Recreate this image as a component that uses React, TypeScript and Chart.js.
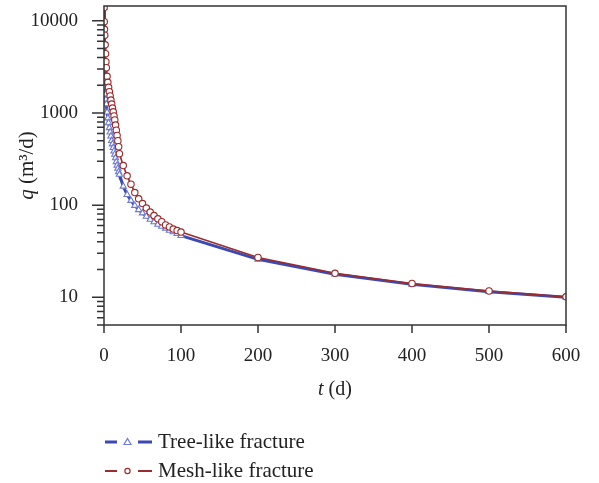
import React, { useEffect, useRef } from "react";
import { Chart, registerables } from "chart.js";

Chart.register(...registerables);

// ---- data ----
const tDays = [
  0.1, 0.3, 0.6, 1, 1.5, 2, 2.5, 3, 4, 5, 6, 7, 8, 9, 10, 11, 12, 13, 14, 15, 16, 17, 18, 19, 20,
  25, 30, 35, 40, 45, 50, 55, 60, 65, 70, 75, 80, 85, 90, 95, 100,
  200, 300, 400, 500, 600,
];
const qTree = [
  14000, 4500, 3000, 2300, 1900, 1600, 1400, 1250, 1020, 880, 780, 690, 620, 560, 500, 460, 420, 385, 355, 325, 295, 270, 250, 230, 215,
  160, 130, 112, 99, 89, 82, 75.5, 70, 65.6, 61.8, 58.8, 56, 53.2, 51.1, 49, 46.6,
  25.8, 17.8, 13.8, 11.5, 10,
];
const qMesh = [
  14000, 9800, 8100, 7000, 5500, 4400, 3600, 3100, 2500, 2150, 1900, 1700, 1530, 1380, 1250, 1130, 1030, 930, 840, 740, 650, 570, 500, 430, 361,
  269, 208, 169, 137, 117, 104, 93, 84, 77, 71, 66, 61, 58, 55, 53, 51,
  27, 18.2, 14.1, 11.7, 10.1,
];
const seriesNames = ["Tree-like fracture", "Mesh-like fracture"];
const xTickValues = [0, 100, 200, 300, 400, 500, 600];
const yTickLabels = [10, 100, 1000, 10000];

const FONT = "'Liberation Serif', 'Times New Roman', serif";
const BLUE_LINE = "#3a49b4";
const BLUE_MARK = "#6c7bd4";
const RED = "#9c2b2b";
const AXIS = "#333333";
const TEXT = "#222222";

const framePlugin = {
  id: "frameTicks",
  afterDraw(chart: any) {
    const { ctx, chartArea: a, scales } = chart;
    const xs = scales.x;
    const ys = scales.y;
    ctx.save();
    ctx.strokeStyle = AXIS;
    ctx.lineWidth = 1.5;
    ctx.strokeRect(a.left, a.top, a.right - a.left, a.bottom - a.top);
    ctx.beginPath();
    xTickValues.forEach((v) => {
      const px = xs.getPixelForValue(v);
      ctx.moveTo(px, a.bottom);
      ctx.lineTo(px, a.bottom + 8);
    });
    for (let d = 0; d <= 4; d++) {
      for (let m = 1; m <= 9; m++) {
        const v = m * Math.pow(10, d);
        if (v < ys.min || v > ys.max) continue;
        const py = ys.getPixelForValue(v);
        const len = m === 1 ? 12 : 7;
        ctx.moveTo(a.left, py);
        ctx.lineTo(a.left - len, py);
      }
    }
    ctx.stroke();

    ctx.fillStyle = TEXT;
    ctx.textBaseline = "middle";
    const xt1 = "t";
    const xt2 = " (d)";
    ctx.font = `italic 20px ${FONT}`;
    const w1 = ctx.measureText(xt1).width;
    ctx.font = `20px ${FONT}`;
    const w2 = ctx.measureText(xt2).width;
    const cx = (a.left + a.right) / 2;
    const sx = cx - (w1 + w2) / 2;
    ctx.textAlign = "left";
    ctx.font = `italic 20px ${FONT}`;
    ctx.fillText(xt1, sx, 390);
    ctx.font = `20px ${FONT}`;
    ctx.fillText(xt2, sx + w1, 390);

    ctx.save();
    ctx.translate(27, (a.top + a.bottom) / 2);
    ctx.rotate(-Math.PI / 2);
    const yt1 = "q";
    const yt2 = " (m³/d)";
    ctx.font = `italic 21px ${FONT}`;
    const v1 = ctx.measureText(yt1).width;
    ctx.font = `21px ${FONT}`;
    const v2 = ctx.measureText(yt2).width;
    const sy = -(v1 + v2) / 2;
    ctx.font = `italic 21px ${FONT}`;
    ctx.fillText(yt1, sy, 0);
    ctx.font = `21px ${FONT}`;
    ctx.fillText(yt2, sy + v1, 0);
    ctx.restore();

    const rows = [
      { y: 442, color: BLUE_LINE, mark: BLUE_MARK, lw: 3, shape: "tri", name: seriesNames[0] },
      { y: 471, color: RED, mark: RED, lw: 2, shape: "circ", name: seriesNames[1] },
    ];
    rows.forEach((r) => {
      ctx.strokeStyle = r.color;
      ctx.lineWidth = r.lw;
      ctx.beginPath();
      ctx.moveTo(105, r.y);
      ctx.lineTo(117, r.y);
      ctx.moveTo(138, r.y);
      ctx.lineTo(152, r.y);
      ctx.stroke();
      ctx.strokeStyle = r.mark;
      ctx.lineWidth = 1.2;
      ctx.beginPath();
      if (r.shape === "tri") {
        ctx.moveTo(127.5, r.y - 3.5);
        ctx.lineTo(131, r.y + 2.5);
        ctx.lineTo(124, r.y + 2.5);
        ctx.closePath();
      } else {
        ctx.arc(127.5, r.y, 2.6, 0, Math.PI * 2);
      }
      ctx.stroke();
      ctx.fillStyle = TEXT;
      ctx.font = `21px ${FONT}`;
      ctx.textAlign = "left";
      ctx.textBaseline = "middle";
      ctx.fillText(r.name, 158, r.y);
    });
    ctx.restore();
  },
};

export default function App() {
  const ref = useRef<HTMLCanvasElement>(null);
  useEffect(() => {
    if (!ref.current) return;
    const chart = new Chart(ref.current, {
      type: "scatter",
      data: {
        datasets: [
          {
            label: seriesNames[0],
            data: tDays.map((t, i) => ({ x: t, y: qTree[i] })),
            showLine: true,
            borderColor: BLUE_LINE,
            borderWidth: 3,
            pointStyle: "triangle",
            pointRadius: 3.6,
            pointBorderColor: BLUE_MARK,
            pointBackgroundColor: "#ffffff",
            pointBorderWidth: 1.1,
            order: 1,
          },
          {
            label: seriesNames[1],
            data: tDays.map((t, i) => ({ x: t, y: qMesh[i] })),
            showLine: true,
            borderColor: RED,
            borderWidth: 1.6,
            pointStyle: "circle",
            pointRadius: 3.2,
            pointBorderColor: RED,
            pointBackgroundColor: "#ffffff",
            pointBorderWidth: 1.1,
            order: 0,
          },
        ],
      },
      options: {
        animation: false,
        responsive: true,
        maintainAspectRatio: false,
        layout: { padding: { top: 6, right: 33, left: 0, bottom: 0 } },
        plugins: { legend: { display: false }, tooltip: { enabled: false } },
        scales: {
          x: {
            type: "linear",
            min: 0,
            max: 600,
            grid: { display: false },
            border: { display: false },
            afterFit: (s: any) => {
              s.height = 158;
              s.paddingLeft = 0;
              s.paddingRight = 0;
            },
            afterBuildTicks: (s: any) => {
              s.ticks = xTickValues.map((v) => ({ value: v }));
            },
            ticks: {
              padding: 12,
              color: TEXT,
              font: { family: FONT, size: 19 },
              maxRotation: 0,
            },
          },
          y: {
            type: "logarithmic",
            min: 5,
            max: 14500,
            grid: { display: false },
            border: { display: false },
            afterFit: (s: any) => {
              s.width = 104;
              s.paddingTop = 0;
              s.paddingBottom = 0;
            },
            afterBuildTicks: (s: any) => {
              s.ticks = yTickLabels.map((v) => ({ value: v }));
            },
            ticks: {
              padding: 18,
              color: TEXT,
              font: { family: FONT, size: 19 },
              autoSkip: false,
              callback: (v: any) => String(v),
            },
          },
        },
      },
      plugins: [framePlugin],
    });
    return () => chart.destroy();
  }, []);
  return (
    <div style={{ position: "fixed", left: 0, top: 0, width: 599, height: 483, background: "#fff" }}>
      <canvas ref={ref} />
    </div>
  );
}
